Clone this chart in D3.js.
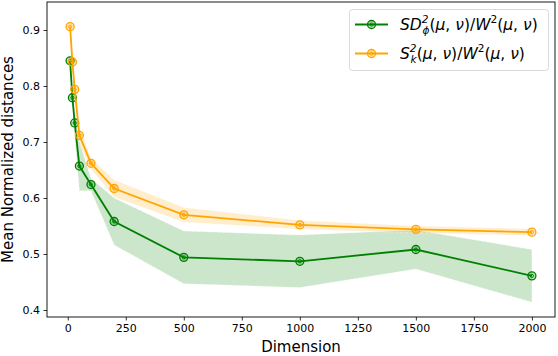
<!DOCTYPE html>
<html>
<head>
<meta charset="utf-8">
<script src="https://cdn.jsdelivr.net/npm/d3@7"></script>
<style>
  html, body { margin: 0; padding: 0; background: #fff; }
  svg { display: block; font-family: "DejaVu Sans", sans-serif; }
</style>
</head>
<body>
<svg id="chart" width="558" height="356"></svg>
<script>
const dims = [10, 20, 30, 50, 100, 200, 500, 1000, 1500, 2000];
const sdMean = [0.845, 0.779, 0.734, 0.657, 0.624, 0.558, 0.494, 0.487, 0.508, 0.461];
const sdStd  = [0.008, 0.010, 0.020, 0.044, 0.011, 0.042, 0.047, 0.047, 0.035, 0.047];
const skMean = [0.906, 0.843, 0.794, 0.712, 0.662, 0.617, 0.570, 0.552, 0.544, 0.539];
const skStd  = [0.018, 0.015, 0.012, 0.015, 0.010, 0.015, 0.013, 0.008, 0.006, 0.006];
const xTicks = [0, 250, 500, 750, 1000, 1250, 1500, 1750, 2000];
const yTicks = [0.4, 0.5, 0.6, 0.7, 0.8, 0.9];
const xLabel = "Dimension";
const yLabel = "Mean Normalized distances";

const svg = d3.select("#chart");
const L = 47, R = 555, T = 2, B = 317;

const x = d3.scaleLinear().domain([-89.5, 2099.5]).range([L, R]);
const y = d3.scaleLinear().domain([0.3875, 0.95]).range([B, T]);

const series = [
  { mean: sdMean, std: sdStd, color: "#008000", band: "rgba(0,128,0,0.2)" },
  { mean: skMean, std: skStd, color: "#ffa500", band: "rgba(255,165,0,0.2)" }
];

const area = d3.area()
  .x(d => x(d.d))
  .y0(d => y(d.m - d.s))
  .y1(d => y(d.m + d.s));
const line = d3.line().x(d => x(d.d)).y(d => y(d.m));

const plot = svg.append("g");
series.forEach(s => {
  const pts = dims.map((d, i) => ({ d, m: s.mean[i], s: s.std[i] }));
  plot.append("path").datum(pts).attr("d", area)
    .attr("fill", s.band).attr("stroke", "rgba(255,255,255,0.5)").attr("stroke-width", 0.8)
    .attr("stroke-dasharray", "3,2");
  s.pts = pts;
});
function marker(g, cx, cy, color) {
  g.append("circle").attr("cx", cx).attr("cy", cy).attr("r", 4)
    .attr("fill", color).attr("fill-opacity", 0.25).attr("stroke", color).attr("stroke-width", 1.3);
  g.append("circle").attr("cx", cx).attr("cy", cy).attr("r", 1.6)
    .attr("fill", "none").attr("stroke", color).attr("stroke-width", 1);
}
series.forEach(s => {
  plot.append("path").datum(s.pts).attr("d", line)
    .attr("fill", "none").attr("stroke", s.color).attr("stroke-width", 1.8);
  s.pts.forEach(p => marker(plot, x(p.d), y(p.m), s.color));
});

// frame
svg.append("rect").attr("x", L).attr("y", T).attr("width", R - L).attr("height", B - T)
  .attr("fill", "none").attr("stroke", "#000").attr("stroke-width", 0.9);

// axes
const xAxis = svg.append("g").attr("transform", `translate(0,${B})`)
  .call(d3.axisBottom(x).tickValues(xTicks).tickFormat(d3.format("d")).tickSize(3.5).tickPadding(3.5));
const yAxis = svg.append("g").attr("transform", `translate(${L},0)`)
  .call(d3.axisLeft(y).tickValues(yTicks).tickFormat(d3.format(".1f")).tickSize(3.5).tickPadding(3.5));
[xAxis, yAxis].forEach(a => {
  a.select(".domain").remove();
  a.selectAll("text").attr("font-family", "DejaVu Sans").attr("font-size", 11).attr("fill", "#000");
  a.selectAll("line").attr("stroke", "#000").attr("stroke-width", 0.8);
});

svg.append("text").attr("x", (L + R) / 2).attr("y", 352).attr("text-anchor", "middle")
  .attr("font-size", 15).text(xLabel);
svg.append("text").attr("transform", `translate(13,${(T + B) / 2}) rotate(-90)`)
  .attr("text-anchor", "middle").attr("font-size", 15).text(yLabel);

// legend
const lg = svg.append("g");
lg.append("rect").attr("x", 349.5).attr("y", 9.5).attr("width", 199).attr("height", 61).attr("rx", 3)
  .attr("fill", "#fff").attr("fill-opacity", 0.8).attr("stroke", "#d0d0d0").attr("stroke-width", 0.8);
const rows = [
  { y: 24.5, color: "#008000", base: "SD", sub: "ϕ" },
  { y: 53.5, color: "#ffa500", base: "S", sub: "k" }
];
rows.forEach(r => {
  lg.append("line").attr("x1", 355).attr("x2", 388).attr("y1", r.y).attr("y2", r.y)
    .attr("stroke", r.color).attr("stroke-width", 1.8);
  marker(lg, 371.5, r.y, r.color);
  const t = lg.append("text").attr("x", 400).attr("y", r.y + 5.5).attr("font-size", 15.5)
    .attr("font-family", "DejaVu Sans").attr("font-style", "italic");
  t.append("tspan").text(r.base);
  const sup = t.append("tspan").attr("font-size", 10.5).attr("dy", -7).text("2");
  t.append("tspan").attr("font-size", 10.5).attr("dx", -6).attr("dy", 11).text(r.sub);
  t.append("tspan").attr("dy", -4).attr("font-style", "normal").text("(");
  t.append("tspan").text("μ");
  t.append("tspan").attr("font-style", "normal").text(", ");
  t.append("tspan").text("ν");
  t.append("tspan").attr("font-style", "normal").text(")/");
  t.append("tspan").text("W");
  t.append("tspan").attr("font-size", 10.5).attr("font-style", "normal").attr("dy", -7).text("2");
  t.append("tspan").attr("dy", 7).attr("font-style", "normal").text("(");
  t.append("tspan").text("μ");
  t.append("tspan").attr("font-style", "normal").text(", ");
  t.append("tspan").text("ν");
  t.append("tspan").attr("font-style", "normal").text(")");
});
</script>
</body>
</html>
